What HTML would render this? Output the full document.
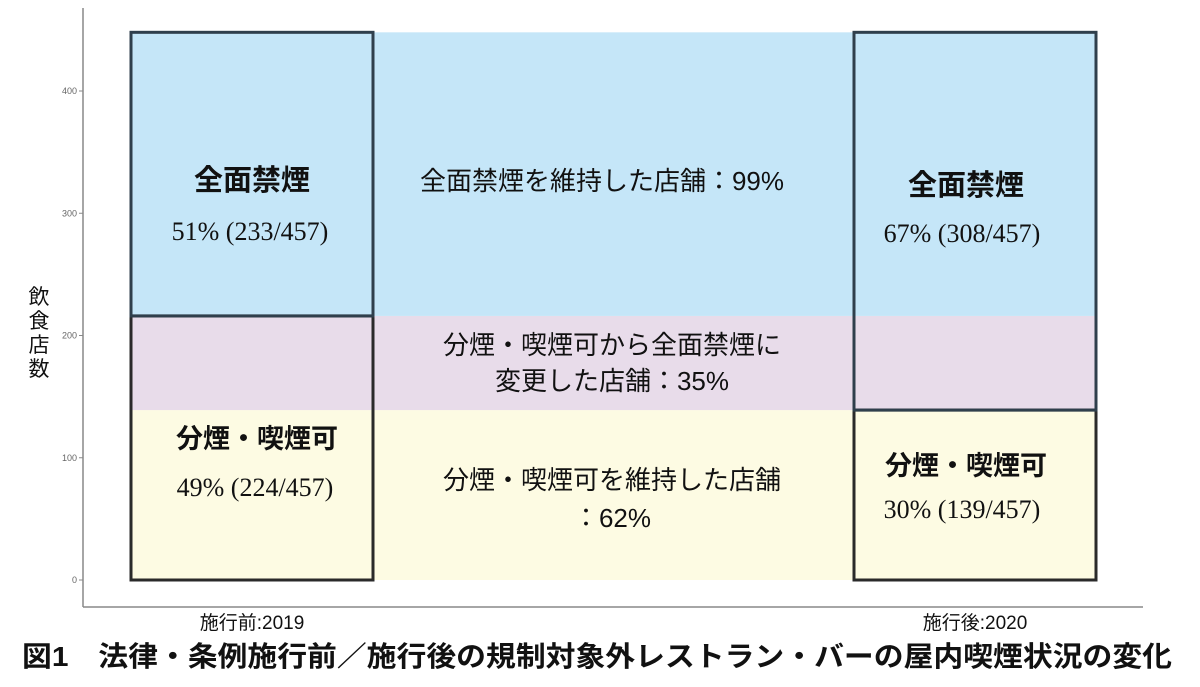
<!DOCTYPE html>
<html><head><meta charset="utf-8"><style>
body{margin:0;background:#fff;width:1200px;height:687px;overflow:hidden}
svg{display:block}
.jp{font-family:"Liberation Sans","Noto Sans CJK JP",sans-serif}
.se{font-family:"Liberation Serif","Noto Serif CJK SC",serif}
</style></head><body>
<svg id="chart" width="1200" height="687"></svg>
<script>
const tickValues=[0,100,200,300,400];
const tickLabels=["0","100","200","300","400"];
const bandNames=["smoking-kept","changed-to-ban","ban-kept"];
const bandValues=[139,77,232];
const bandColors=["#fdfbe3","#e8dcea","#c5e6f8"];
const categories=["施行前:2019","施行後:2020"];
const lowerBox=[216,139];
const totalBox=[448,448];
const svg=document.getElementById('chart');
const NS='http://www.w3.org/2000/svg';
const y=v=>580-v*1.2225;
const barX=[131,854],barW=242;
function mk(t,a){const e=document.createElementNS(NS,t);for(const k in a)e.setAttribute(k,a[k]);svg.appendChild(e);return e;}
let acc=0;
bandValues.forEach((v,i)=>{
 const r=mk('rect',{x:131,y:y(acc+v),width:965,height:y(acc)-y(acc+v),fill:bandColors[i]});
 
 
 acc+=v;
});
barX.forEach((bx,i)=>{
 const a=mk('rect',{x:bx,y:y(lowerBox[i]),width:barW,height:y(0)-y(lowerBox[i]),fill:'none',stroke:'#2a2a2a','stroke-width':3});
 
 
 const b=mk('rect',{x:bx,y:y(totalBox[i]),width:barW,height:y(lowerBox[i])-y(totalBox[i]),fill:'none',stroke:'#2f3f4c','stroke-width':3});
 
 
});
const ax=mk('line',{x1:83,y1:8,x2:83,y2:607,stroke:'#888','stroke-width':1.5});


const xx=mk('line',{x1:83,y1:607,x2:1143,y2:607,stroke:'#888','stroke-width':1.5});


tickValues.forEach((v,i)=>{
 const t=mk('line',{x1:79,x2:83,y1:y(v),y2:y(v),stroke:'#888'});
 
 
 const l=mk('text',{x:77,y:y(v)+3,'text-anchor':'end','font-size':9,fill:'#666',class:'jp'});
 l.textContent=tickLabels[i];
 
 
});
categories.forEach((c,i)=>{
 const t=mk('text',{x:barX[i]+barW/2,y:629,'text-anchor':'middle','font-size':19,fill:'#111',class:'jp'});
 t.textContent=c;
 
 
});
function txt(s,x,yy,sz,cls,w,name){const t=mk('text',{x:x,y:yy,'text-anchor':'middle','font-size':sz,fill:'#111',class:cls,'font-weight':w||'normal'});t.textContent=s;return t;}
txt('全面禁煙',252,190,29,'jp','bold','label-2019-ban');
txt('51% (233/457)',250,240,26,'se','','value-2019-ban');
txt('分煙・喫煙可',257,448,27,'jp','bold','label-2019-smoking');
txt('49% (224/457)',255,496,26,'se','','value-2019-smoking');
txt('全面禁煙',966,195,29,'jp','bold','label-2020-ban');
txt('67% (308/457)',962,242,26,'se','','value-2020-ban');
txt('分煙・喫煙可',966,475,27,'jp','bold','label-2020-smoking');
txt('30% (139/457)',962,518,26,'se','','value-2020-smoking');
txt('全面禁煙を維持した店舗：99%',602,190,26,'jp','','flow-ban-kept');
txt('分煙・喫煙可から全面禁煙に',612,354,26,'jp','','flow-changed-1');
txt('変更した店舗：35%',612,390,26,'jp','','flow-changed-2');
txt('分煙・喫煙可を維持した店舗',612,489,26,'jp','','flow-smoking-1');
txt('：62%',612,527,26,'jp','','flow-smoking-2');
['飲','食','店','数'].forEach((c,i)=>txt(c,39,304+i*24,21,'jp','','y-axis-title'));
const cap=mk('text',{x:22,y:666,'font-size':28,fill:'#111',class:'jp','font-weight':'bold','textLength':1150,'lengthAdjust':'spacingAndGlyphs'});
cap.textContent='図1　法律・条例施行前／施行後の規制対象外レストラン・バーの屋内喫煙状況の変化';


</script>
</body></html>
